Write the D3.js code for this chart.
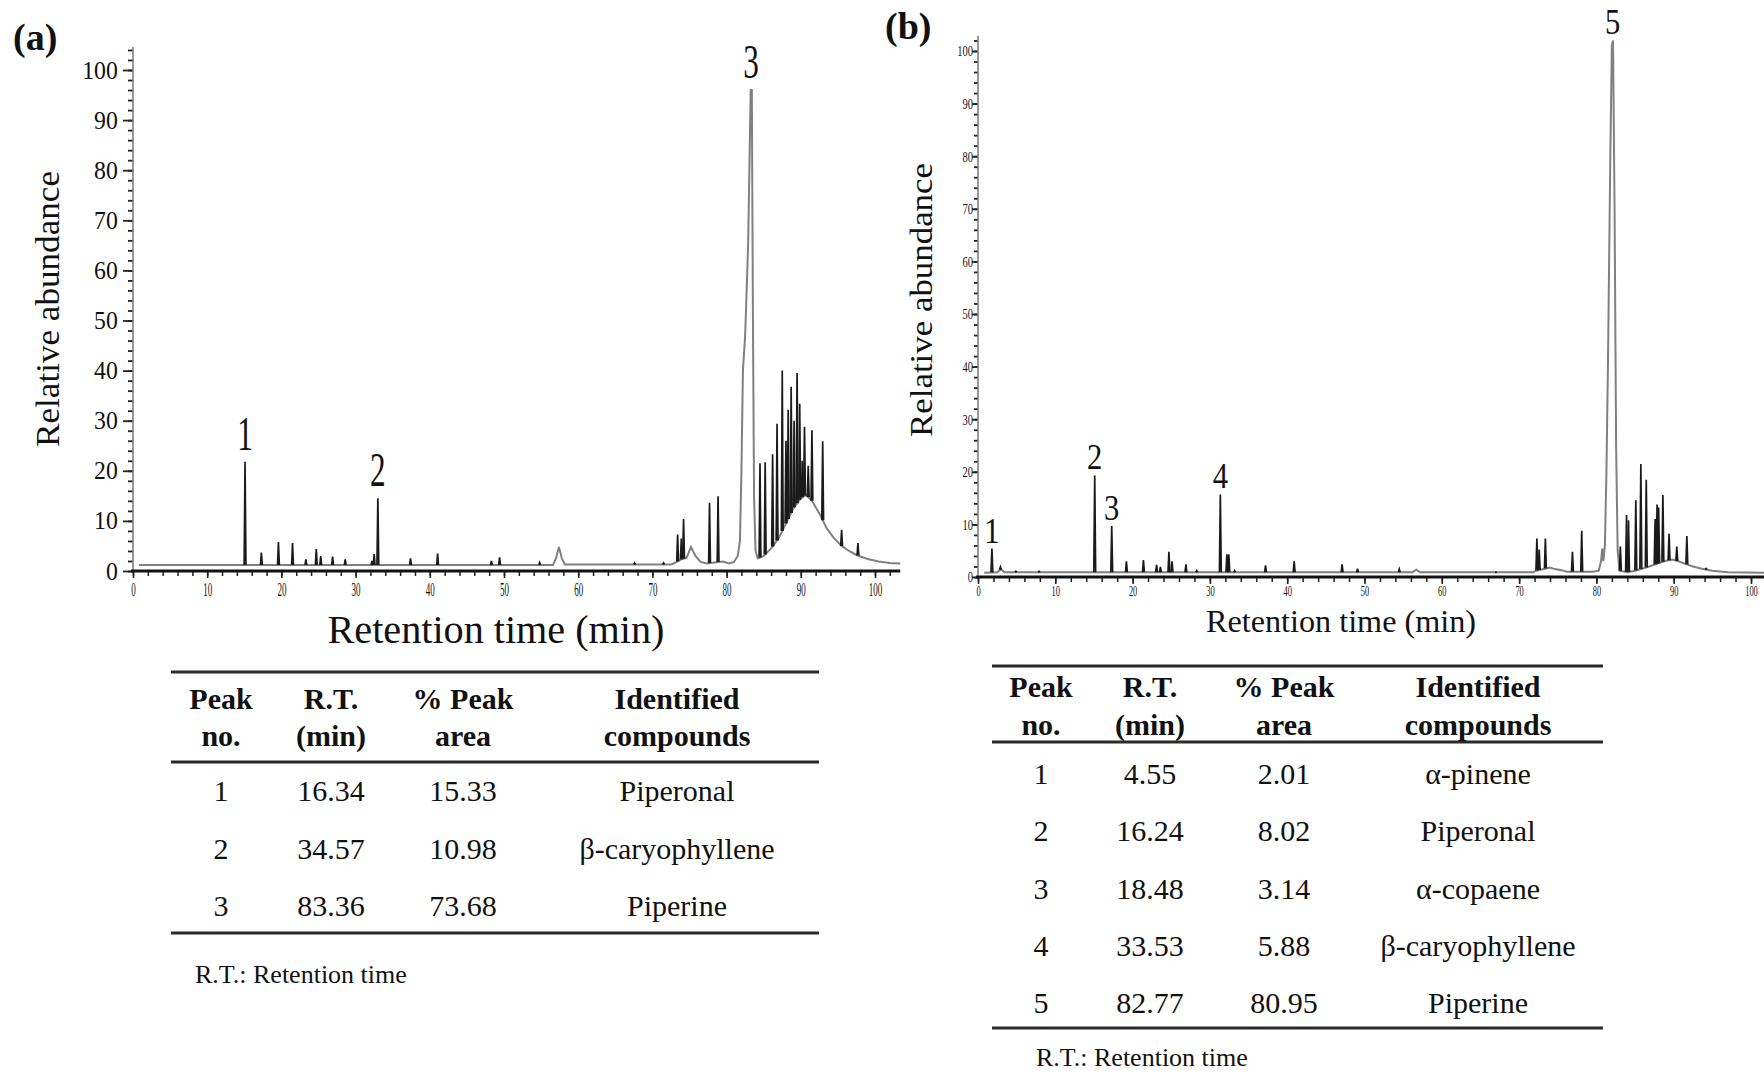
<!DOCTYPE html>
<html>
<head>
<meta charset="utf-8">
<script src="https://cdn.jsdelivr.net/npm/d3@7"></script>
<style>
  body { margin: 0; background: #fff; }
  svg { display: block; }
  text { font-family: "Liberation Serif", "Times New Roman", serif; fill: #111; }
</style>
</head>
<body>
<svg width="1764" height="1075"></svg>
<script>
// ---- chromatogram (a): gray trace [min, %] and narrow peaks [min, %]
var traceA = [[0.8,1.2],[14.8,1.2],[56.6,1.2],[57.0,2.5],[57.4,4.8],[57.8,2.5],[58.2,1.3],[72.5,1.3],[73.0,1.6],
  [74.0,2.4],[74.6,2.6],[75.2,4.8],[75.8,3.0],[76.5,1.8],[77.3,1.5],[79.5,1.9],[80.3,1.5],[81.0,1.8],[81.5,3.0],
  [81.8,6],[82.0,20],[82.2,40],[82.5,47],[82.9,65],[83.25,96],[83.4,96],[83.55,50],[83.7,15],[83.9,4],[84.2,2.5],
  [85,3],[86,4.5],[87,6.5],[88,9.5],[89,12.5],[90,14.5],[90.7,15.2],[91.5,14],[92.5,11.5],[93.5,8.5],[94.5,6.5],
  [95.5,5],[96.5,4],[97.5,3.2],[99,2.4],[100.5,1.9],[102,1.6],[103.4,1.5]];
var spikesA = [[15.1,21.8],[17.3,3.7],[19.6,5.8],[21.5,5.6],[23.3,2.3],[24.7,4.4],[25.3,3.0],[26.9,2.9],[28.6,2.3],
  [32.2,2.0],[32.5,3.4],[33.0,14.5],[37.4,2.5],[41.05,3.5],[48.3,2.0],[49.4,2.7],[54.8,1.7],[67.6,1.6],[71.5,1.6],
  [73.4,7.3],[73.9,6.5],[74.2,10.4],[77.7,13.6],[78.85,14.9],[84.5,21.5],[85.2,21.7],[86.2,23.3],[86.8,29.4],
  [87.5,40],[88.0,26],[88.3,32.2],[88.7,36.8],[89.1,30],[89.5,39.5],[89.85,33.4],[90.2,22],[90.5,28.8],[91.0,21],
  [91.5,28.1],[92.95,25.9],[95.5,8.2],[97.7,5.6]];
var marksA = [[15.1,21.8,"1"],[33.0,14.5,"2"],[83.3,96,"3"]];

// ---- chromatogram (b)
var traceB = [[0.8,0.8],[2.5,0.9],[3.0,1.5],[3.4,0.9],[56.2,0.9],[56.7,1.4],[57.2,0.9],[71.8,0.9],[72.2,1.2],
  [74.0,1.8],[74.6,1.5],[75.5,1.3],[76.2,1.0],[79.5,1.0],[80.3,1.2],[80.6,3],[80.75,5.4],[80.9,3],[81.1,6],
  [81.3,20],[81.5,41],[81.8,80],[82.0,101],[82.15,102],[82.35,70],[82.55,25],[82.75,5],[83.0,1.2],[84,0.9],
  [85,1.2],[86,1.6],[87,2.1],[88,2.6],[89,3.1],[89.8,3.3],[90.6,3.0],[91.5,2.5],[92.5,2.0],[93.5,1.6],[95,1.2],
  [97,0.9],[101.7,0.8]];
var spikesB = [[1.8,5.4],[2.9,1.9],[4.9,1.1],[7.9,1.1],[15.1,19.3],[17.3,9.7],[19.2,3.0],[21.4,3.2],[23.1,2.3],
  [23.6,1.9],[24.7,4.8],[25.1,3.0],[26.9,2.4],[28.3,1.2],[31.35,15.7],[32.2,4.3],[32.45,4.3],[33.2,1.2],[37.2,2.2],
  [40.9,3.0],[47.1,2.4],[49.1,1.6],[54.5,1.5],[67,0.9],[72.3,7.3],[72.6,5.2],[73.4,7.3],[76.9,4.8],[78.1,8.8],
  [83.1,5.8],[83.9,11.8],[84.15,10.8],[85.1,14.6],[85.75,21.5],[86.45,18.5],[87.6,11],[87.85,13.8],[88.05,13.2],
  [88.6,15.6],[89.4,8.2],[90.4,5.8],[91.7,7.8],[94.2,1.6]];
var marksB = [[1.8,5.4,"1"],[15.1,19.3,"2"],[17.3,9.7,"3"],[31.35,15.7,"4"],[82.1,102,"5"]];

var xTicks = [0,10,20,30,40,50,60,70,80,90,100];
var yTicks = [0,10,20,30,40,50,60,70,80,90,100];

// ---- tables
var headA = [["Peak","no."],["R.T.","(min)"],["% Peak","area"],["Identified","compounds"]];
var peakNoA = ["1","2","3"];
var rtA = ["16.34","34.57","83.36"];
var areaA = ["15.33","10.98","73.68"];
var compoundA = ["Piperonal","β-caryophyllene","Piperine"];

var peakNoB = ["1","2","3","4","5"];
var rtB = ["4.55","16.24","18.48","33.53","82.77"];
var areaB = ["2.01","8.02","3.14","5.88","80.95"];
var compoundB = ["α-pinene","Piperonal","α-copaene","β-caryophyllene","Piperine"];
var footnote = "R.T.: Retention time";

var svg = d3.select("svg");
svg.append("rect").attr("width", 1764).attr("height", 1075).attr("fill", "#fff");

function drawChrom(o) {
    var x = o.x, y = o.y, g = svg.append("g");

    // axes ticks
    var minor = d3.range(0, o.yTop, 2);
    g.append("g").attr("transform", "translate(" + x(0) + ",0)")
        .call(d3.axisLeft(y).tickValues(minor).tickSize(o.yMinor).tickFormat(""))
        .call(a => a.select(".domain").remove());
    var ya = g.append("g").attr("transform", "translate(" + x(0) + ",0)")
        .call(d3.axisLeft(y).tickValues(yTicks).tickSize(o.yMajor).tickPadding(o.yPad))
        .call(a => a.select(".domain").remove());
    ya.selectAll("text").attr("font-family", "'Liberation Sans', Arial, sans-serif")
        .attr("font-size", o.yFont).attr("fill", "#222")
        .attr("transform", "scale(" + o.yScaleX + ",1)");
    g.selectAll(".tick line").attr("stroke", "#222").attr("stroke-width", 1.8);

    g.append("g").attr("transform", "translate(0," + y(0) + ")")
        .call(d3.axisBottom(x).tickValues(d3.range(0, o.xEnd, 2)).tickSize(5).tickFormat(""))
        .call(a => a.select(".domain").remove())
        .selectAll("line").attr("stroke", "#222").attr("stroke-width", 1.5);
    var xa = g.append("g").attr("transform", "translate(0," + y(0) + ")")
        .call(d3.axisBottom(x).tickValues(xTicks).tickSize(7).tickPadding(o.xPad))
        .call(a => a.select(".domain").remove());
    xa.selectAll("line").attr("stroke", "#222").attr("stroke-width", 1.6);
    xa.selectAll("text").attr("font-family", "'Liberation Sans', Arial, sans-serif")
        .attr("font-size", o.xFont).attr("fill", "#333")
        .attr("transform", "scale(" + o.xScaleX + ",1)");

    // axis lines
    g.append("line").attr("x1", x(0)).attr("x2", x(0)).attr("y1", y(0)).attr("y2", y(o.yTop))
        .attr("stroke", "#777").attr("stroke-width", 1.5);
    g.append("line").attr("x1", x(0) - 2).attr("x2", x(o.xEnd)).attr("y1", y(0)).attr("y2", y(0))
        .attr("stroke", "#111").attr("stroke-width", 3);

    // gray trace
    var line = d3.line().x(d => x(d[0])).y(d => y(d[1]));
    g.append("path").datum(o.trace).attr("d", line)
        .attr("fill", "none").attr("stroke", "#808080").attr("stroke-width", 2);

    // narrow peaks, starting from the trace
    var bis = d3.bisector(d => d[0]).left;
    function baseAt(t) {
        var i = bis(o.trace, t), a = o.trace[Math.max(0, i - 1)], b = o.trace[Math.min(o.trace.length - 1, i)];
        if (a === b || b[0] === a[0]) return a[1];
        return a[1] + (b[1] - a[1]) * (t - a[0]) / (b[0] - a[0]);
    }
    g.selectAll("path.spike").data(o.spikes).join("path").attr("class", "spike")
        .attr("d", d => {
            var b = baseAt(d[0]);
            return "M" + x(d[0] - 0.12) + "," + y(b) + "L" + x(d[0]) + "," + y(d[1]) + "L" + x(d[0] + 0.12) + "," + y(b);
        })
        .attr("fill", "none").attr("stroke", "#1a1a1a").attr("stroke-width", 1.7);

    // peak numbers
    g.selectAll("g.mark").data(o.marks).join("g").attr("class", "mark")
        .attr("transform", d => "translate(" + x(d[0]) + "," + (y(d[1]) - o.markGap) + ") scale(" + o.markScaleX + ",1)")
        .append("text").attr("text-anchor", "middle").attr("font-size", o.markFont).text(d => d[2]);

    // titles
    g.append("text").attr("transform", "translate(" + o.yTitle[0] + "," + o.yTitle[1] + ") rotate(-90)")
        .attr("text-anchor", "middle").attr("font-size", o.yTitleFont)
        .attr("textLength", o.yTitle[2]).attr("lengthAdjust", "spacingAndGlyphs")
        .text("Relative abundance");
    g.append("text").attr("x", o.xTitle[0]).attr("y", o.xTitle[1])
        .attr("text-anchor", "middle").attr("font-size", o.xTitleFont)
        .attr("textLength", o.xTitle[2]).attr("lengthAdjust", "spacingAndGlyphs")
        .text("Retention time (min)");
    g.append("text").attr("x", o.panel[0]).attr("y", o.panel[1])
        .attr("font-size", 38).attr("font-weight", "bold").text(o.panel[2]);
}

drawChrom({
    x: d3.scaleLinear().domain([0, 100]).range([133, 875]),
    y: d3.scaleLinear().domain([0, 100]).range([571, 70]),
    trace: traceA, spikes: spikesA, marks: marksA,
    yTop: 104.6, xEnd: 103.4,
    yMajor: 10, yMinor: 5, yPad: 6, xPad: 5,
    yFont: 25, yScaleX: 0.95, xFont: 18, xScaleX: 0.5,
    markFont: 48, markScaleX: 0.65, markGap: 12,
    yTitle: [59, 309, 276], yTitleFont: 34,
    xTitle: [496, 643, 337], xTitleFont: 40,
    panel: [13, 50, "(a)"]
});
drawChrom({
    x: d3.scaleLinear().domain([0, 100]).range([978, 1751]),
    y: d3.scaleLinear().domain([0, 100]).range([577, 51]),
    trace: traceB, spikes: spikesB, marks: marksB,
    yTop: 102.9, xEnd: 101.7,
    yMajor: 6, yMinor: 4, yPad: 1, xPad: 2,
    yFont: 15, yScaleX: 0.7, xFont: 14, xScaleX: 0.6,
    markFont: 36, markScaleX: 0.85, markGap: 6,
    yTitle: [932, 300, 274], yTitleFont: 32,
    xTitle: [1341, 632, 270], xTitleFont: 32,
    panel: [885, 39, "(b)"]
});

function drawTable(o) {
    var g = svg.append("g");
    var col = d3.scaleOrdinal().domain([0, 1, 2, 3]).range(o.cols);
    var row = d3.scalePoint().domain(o.peakNo).range(o.rows);
    [o.top, o.mid, o.bottom].forEach(v => {
        g.append("line").attr("x1", o.x0).attr("x2", o.x1).attr("y1", v).attr("y2", v)
            .attr("stroke", "#2a2a2a").attr("stroke-width", 2.8);
    });
    headA.forEach((h, i) => {
        h.forEach((s, j) => {
            g.append("text").attr("x", col(i)).attr("y", o.head[j]).attr("text-anchor", "middle")
                .attr("font-size", 30).attr("font-weight", "bold").text(s);
        });
    });
    var cells = [o.peakNo, o.rt, o.area, o.compound];
    cells.forEach((vals, i) => {
        g.selectAll(null).data(vals).join("text")
            .attr("x", col(i)).attr("y", (d, k) => row(o.peakNo[k]))
            .attr("text-anchor", "middle").attr("font-size", 30).text(d => d);
    });
    g.append("text").attr("x", o.foot[0]).attr("y", o.foot[1]).attr("font-size", 26).text(footnote);
}

drawTable({
    peakNo: peakNoA, rt: rtA, area: areaA, compound: compoundA,
    x0: 171, x1: 819, top: 672, mid: 762, bottom: 933,
    cols: [221, 331, 463, 677], head: [709, 746], rows: [801, 916],
    foot: [195, 983]
});
drawTable({
    peakNo: peakNoB, rt: rtB, area: areaB, compound: compoundB,
    x0: 992, x1: 1603, top: 666, mid: 742, bottom: 1028,
    cols: [1041, 1150, 1284, 1478], head: [697, 735], rows: [784, 1013],
    foot: [1036, 1066]
});
</script>
</body>
</html>
